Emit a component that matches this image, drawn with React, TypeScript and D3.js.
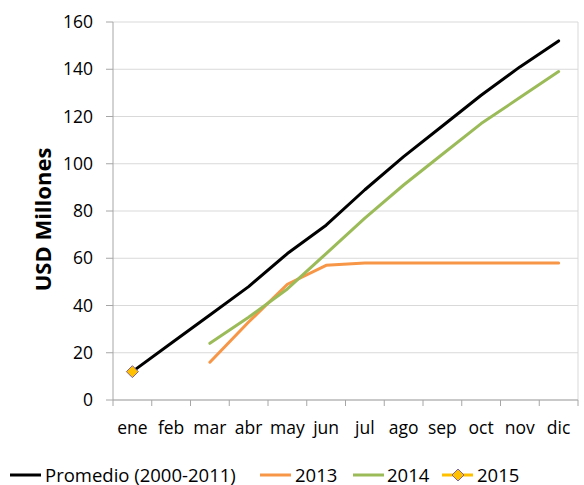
import React from "react";
import * as d3 from "d3";

const months = ["ene", "feb", "mar", "abr", "may", "jun", "jul", "ago", "sep", "oct", "nov", "dic"];
const promedio: (number | null)[] = [12, 24, 36, 48, 62, 74, 89, 103, 116, 129, 141, 152];
const y2013: (number | null)[] = [null, null, 16, 33, 49, 57, 58, 58, 58, 58, 58, 58];
const y2014: (number | null)[] = [null, null, 24, 35, 47, 62, 77, 91, 104, 117, 128, 139];
const y2015: (number | null)[] = [12, null, null, null, null, null, null, null, null, null, null, null];
const yTicks = [0, 20, 40, 60, 80, 100, 120, 140, 160];

const seriesNames = ["Promedio (2000-2011)", "2013", "2014", "2015"];
const seriesColors = ["#000000", "#F79646", "#9BBB59", "#FFC000"];

const FONT = "'Open Sans', 'DejaVu Sans', sans-serif";

export default function App() {
  const W = 584, H = 485;
  const left = 113, right = 578, top = 22, bottom = 400;
  const x = d3.scaleBand<string>().domain(months).range([left, right]);
  const y = d3.scaleLinear().domain([0, 160]).range([bottom, top]);
  const cx = (m: string) => (x(m) as number) + x.bandwidth() / 2;

  const line = d3
    .line<number | null>()
    .defined((d) => d !== null)
    .x((_, i) => cx(months[i]))
    .y((d) => y(d as number));

  const series = [promedio, y2013, y2014];
  const diamond = (px: number, py: number, r: number) =>
    `M${px},${py - r}L${px + r},${py}L${px},${py + r}L${px - r},${py}Z`;

  const legendX = [10, 260, 353, 442];
  const legendTextX = [45, 295, 387, 477];

  return (
    <svg width={W} height={H} style={{ position: "absolute", left: 0, top: 0, background: "#fff" }}>
      {/* gridlines */}
      {yTicks.map((t) => (
        <line key={"g" + t} x1={left} x2={right} y1={y(t)} y2={y(t)} stroke="#D9D9D9" strokeWidth={1} />
      ))}
      {/* right border */}
      <line x1={right} x2={right} y1={top} y2={bottom} stroke="#D9D9D9" strokeWidth={1} />
      {/* y axis */}
      <line x1={left} x2={left} y1={top} y2={bottom} stroke="#A6A6A6" strokeWidth={1} />
      {yTicks.map((t) => (
        <g key={"t" + t}>
          <line x1={left - 7} x2={left} y1={y(t)} y2={y(t)} stroke="#A6A6A6" />
          <text x={93} y={y(t)} dy="0.35em" textAnchor="end" fontFamily={FONT} fontSize={17.5} fill="#000">
            {t}
          </text>
        </g>
      ))}
      {/* x axis */}
      <line x1={left} x2={right} y1={bottom} y2={bottom} stroke="#A6A6A6" strokeWidth={1} />
      {months.map((m) => (
        <line key={"xt" + m} x1={x(m) as number} x2={x(m) as number} y1={bottom} y2={bottom + 6} stroke="#A6A6A6" />
      ))}
      <line x1={right} x2={right} y1={bottom} y2={bottom + 6} stroke="#A6A6A6" />
      {months.map((m) => (
        <text key={"xl" + m} x={cx(m)} y={434} textAnchor="middle" fontFamily={FONT} fontSize={17.5} fill="#000">
          {m}
        </text>
      ))}
      {/* y title */}
      <text
        transform={`translate(51, 219.5) rotate(-90)`}
        textAnchor="middle"
        fontFamily={FONT}
        fontSize={22}
        fontWeight="bold"
        fill="#000"
      >
        USD Millones
      </text>
      {/* lines */}
      {series.map((s, i) => (
        <path
          key={"s" + i}
          d={line(s) || ""}
          fill="none"
          stroke={seriesColors[i]}
          strokeWidth={3}
          strokeLinejoin="round"
          strokeLinecap="round"
        />
      ))}
      {/* 2015 markers */}
      {y2015.map((v, i) =>
        v === null ? null : (
          <path key={"m" + i} d={diamond(cx(months[i]), y(v), 6)} fill="#FFC000" stroke="#8064A2" strokeWidth={1} />
        )
      )}
      {/* legend */}
      {seriesNames.map((n, i) => (
        <g key={"l" + i}>
          <line x1={legendX[i]} x2={legendX[i] + 31} y1={475} y2={475} stroke={seriesColors[i]} strokeWidth={3} />
          {i === 3 && <path d={diamond(legendX[i] + 16, 475, 6)} fill="#FFC000" stroke="#8064A2" strokeWidth={1} />}
          <text x={legendTextX[i]} y={481.5} fontFamily={FONT} fontSize={18.5} fill="#000">
            {n}
          </text>
        </g>
      ))}
    </svg>
  );
}
